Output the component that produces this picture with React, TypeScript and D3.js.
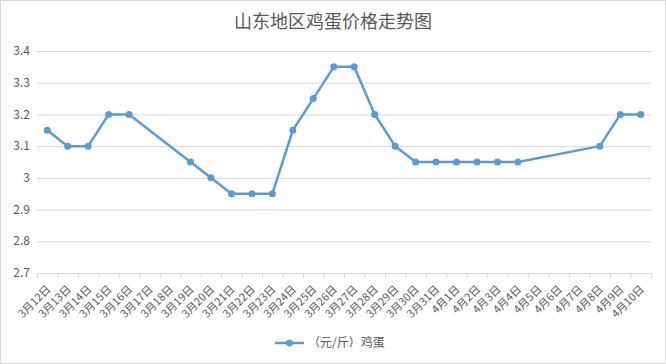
import React from 'react';
import * as d3 from 'd3';

const dates = [
  '3月12日', '3月13日', '3月14日', '3月15日', '3月16日', '3月17日', '3月18日',
  '3月19日', '3月20日', '3月21日', '3月22日', '3月23日', '3月24日', '3月25日',
  '3月26日', '3月27日', '3月28日', '3月29日', '3月30日', '3月31日', '4月1日',
  '4月2日', '4月3日', '4月4日', '4月5日', '4月6日', '4月7日', '4月8日', '4月9日', '4月10日',
];
const prices: (number | null)[] = [
  3.15, 3.1, 3.1, 3.2, 3.2, null, null,
  3.05, 3.0, 2.95, 2.95, 2.95, 3.15, 3.25,
  3.35, 3.35, 3.2, 3.1, 3.05, 3.05, 3.05,
  3.05, 3.05, 3.05, null, null, null, 3.1, 3.2, 3.2,
];
const yTicks = [2.7, 2.8, 2.9, 3, 3.1, 3.2, 3.3, 3.4];

const W = 666;
const H = 364;
const FONT = '"Noto Sans CJK SC", "Noto Sans", sans-serif';
const BLUE = '#5B9BD5';
const GRID = '#D9D9D9';
const TEXT = '#595959';

function App() {
  const x = d3.scaleBand<string>().domain(dates).range([37, 651]);
  const y = d3.scaleLinear().domain([2.7, 3.4]).range([273, 51]);

  const pts = dates
    .map((d, i) => ({ d, v: prices[i] }))
    .filter((p) => p.v !== null) as { d: string; v: number }[];

  const path = d3
    .line<{ d: string; v: number }>()
    .x((p) => (x(p.d) as number) + x.bandwidth() / 2)
    .y((p) => y(p.v))(pts);

  return (
    <svg
      width={W}
      height={H}
      style={{ position: 'absolute', left: 0, top: 0, display: 'block' }}
      fontFamily={FONT}
    >
      <rect x={0.5} y={0.5} width={W - 1} height={H - 1} fill="#fff" stroke={GRID} />
      <text x={W / 2} y={28} textAnchor="middle" fontSize={18} fill={TEXT}>
        山东地区鸡蛋价格走势图
      </text>

      {yTicks.map((t) => (
        <g key={t}>
          {t > 2.7 && (
            <line x1={37} x2={651} y1={y(t) + 0.5} y2={y(t) + 0.5} stroke={GRID} />
          )}
          <text x={30} y={y(t)} dy="0.35em" textAnchor="end" fontSize={12} fill={TEXT}>
            {String(t)}
          </text>
        </g>
      ))}

      {/* x axis */}
      <line x1={37} x2={651} y1={273.5} y2={273.5} stroke={GRID} />
      {[...dates.map((d) => x(d) as number), 651].map((px, i) => (
        <line key={i} x1={px + 0.5} x2={px + 0.5} y1={273} y2={278} stroke={GRID} />
      ))}
      {dates.map((d) => {
        const cx = (x(d) as number) + x.bandwidth() / 2;
        return (
          <text
            key={d}
            transform={`translate(${cx + 4},${290}) rotate(-45)`}
            textAnchor="end"
            fontSize={11}
            fill={TEXT}
          >
            {d}
          </text>
        );
      })}

      <path d={path || ''} fill="none" stroke={BLUE} strokeWidth={2.5} strokeLinejoin="round" />
      {pts.map((p) => (
        <circle
          key={p.d}
          cx={(x(p.d) as number) + x.bandwidth() / 2}
          cy={y(p.v)}
          r={3.5}
          fill={BLUE}
        />
      ))}

      {/* legend */}
      <line x1={275} x2={304} y1={343} y2={343} stroke={BLUE} strokeWidth={2.5} />
      <circle cx={289.5} cy={343} r={3.5} fill={BLUE} />
      <text x={308} y={343} dy="0.35em" fontSize={12} fill={TEXT}>
        （元/斤）鸡蛋
      </text>
    </svg>
  );
}

export default App;
